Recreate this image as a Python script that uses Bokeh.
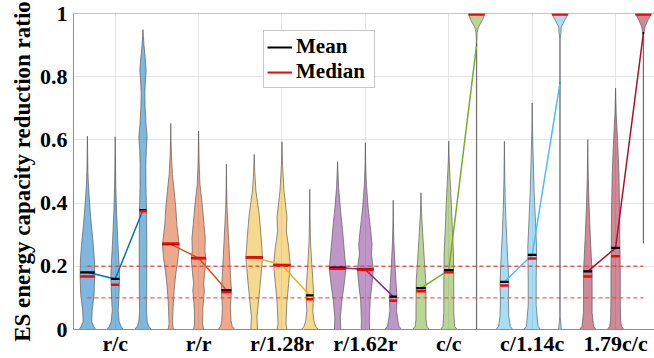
import numpy as np
from bokeh.plotting import figure
from bokeh.models import FixedTicker, Legend, LegendItem, Span, Range1d
from bokeh.embed import file_html
from bokeh.resources import INLINE

# ---------------- data ----------------
group_labels = ["r/c", "r/r", "r/1.28r", "r/1.62r", "c/c", "c/1.14c", "1.79c/c"]
group_ticks = [2, 5, 8, 11, 14, 17, 20]
group_colors = ["#0072BD", "#D95319", "#EDB120", "#7E2F8E", "#77AC30", "#4DBEEE", "#A2142F"]
y_ticks = [0, 0.2, 0.4, 0.6, 0.8, 1.0]
y_tick_labels = ["0", "0.2", "0.4", "0.6", "0.8", "1"]
threshold_levels = [0.1, 0.2]

mean_values = [0.181, 0.160, 0.378, 0.270, 0.226, 0.125, 0.228, 0.204, 0.108,
               0.196, 0.190, 0.104, 0.131, 0.188, 0.901, 0.151, 0.236, 0.780,
               0.184, 0.258, 0.938]
median_values = [0.168, 0.142, 0.374, 0.272, 0.226, 0.119, 0.229, 0.204, 0.096,
                 0.192, 0.189, 0.091, 0.121, 0.181, 0.997, 0.139, 0.225, 0.997,
                 0.168, 0.232, 0.997]

# violin outlines: ratio levels and relative density at those levels (3 violins per group)
rc_levels = [[0, 0.01, 0.025, 0.06, 0.11, 0.17, 0.22, 0.27, 0.33, 0.375, 0.42, 0.46, 0.5, 0.55, 0.612],
             [0, 0.01, 0.025, 0.06, 0.11, 0.165, 0.2, 0.27, 0.375, 0.45, 0.52, 0.61],
             [0, 0.01, 0.025, 0.06, 0.17, 0.27, 0.375, 0.45, 0.52, 0.57, 0.61, 0.65, 0.7, 0.75, 0.79, 0.82, 0.86, 0.9, 0.93, 0.949]]
rc_density = [[1.0, 0.75, 0.52, 0.57, 0.8, 0.88, 0.84, 0.7, 0.48, 0.33, 0.22, 0.12, 0.06, 0.035, 0],
              [1.0, 0.7, 0.48, 0.36, 0.45, 0.52, 0.48, 0.33, 0.16, 0.08, 0.04, 0],
              [1.0, 0.7, 0.5, 0.42, 0.45, 0.46, 0.42, 0.36, 0.34, 0.4, 0.5, 0.36, 0.26, 0.22, 0.3, 0.38, 0.26, 0.12, 0.04, 0]]

rr_levels = [[0, 0.018, 0.07, 0.123, 0.176, 0.228, 0.27, 0.333, 0.385, 0.44, 0.49, 0.55, 0.6, 0.652],
             [0, 0.018, 0.07, 0.123, 0.145, 0.176, 0.223, 0.25, 0.29, 0.333, 0.385, 0.46, 0.53, 0.628],
             [0, 0.01, 0.028, 0.07, 0.123, 0.176, 0.28, 0.385, 0.45, 0.523]]
rr_density = [[0.33, 0.2, 0.28, 0.4, 0.6, 0.88, 1.0, 0.72, 0.6, 0.4, 0.2, 0.08, 0.03, 0],
              [0.6, 0.48, 0.52, 0.69, 0.6, 0.72, 0.88, 0.76, 0.8, 0.64, 0.48, 0.16, 0.06, 0],
              [1.0, 0.7, 0.56, 0.48, 0.6, 0.48, 0.28, 0.08, 0.03, 0]]

r128_levels = [[0, 0.039, 0.102, 0.165, 0.228, 0.302, 0.365, 0.44, 0.5, 0.554],
               [0, 0.018, 0.081, 0.145, 0.204, 0.26, 0.312, 0.354, 0.44, 0.52, 0.594],
               [0, 0.01, 0.028, 0.06, 0.102, 0.145, 0.207, 0.28, 0.36, 0.444]]
r128_density = [[0.4, 0.33, 0.57, 0.8, 1.0, 0.8, 0.6, 0.2, 0.07, 0],
                [0.6, 0.48, 0.57, 0.8, 1.0, 0.8, 0.52, 0.6, 0.24, 0.07, 0],
                [1.0, 0.7, 0.48, 0.36, 0.45, 0.4, 0.24, 0.08, 0.03, 0]]

r162_levels = [[0, 0.039, 0.092, 0.145, 0.194, 0.25, 0.312, 0.385, 0.45, 0.531],
               [0, 0.028, 0.092, 0.145, 0.19, 0.239, 0.27, 0.312, 0.385, 0.46, 0.52, 0.591],
               [0, 0.01, 0.028, 0.06, 0.102, 0.176, 0.28, 0.34, 0.409]]
r162_density = [[0.38, 0.33, 0.52, 0.8, 1.0, 0.8, 0.6, 0.33, 0.12, 0],
                [0.5, 0.48, 0.57, 0.8, 0.96, 0.72, 0.8, 0.64, 0.33, 0.12, 0.04, 0],
                [1.0, 0.7, 0.56, 0.4, 0.45, 0.28, 0.08, 0.03, 0]]

cc_levels = [[0, 0.01, 0.033, 0.075, 0.13, 0.159, 0.222, 0.307, 0.37, 0.433],
             [0, 0.01, 0.054, 0.128, 0.186, 0.243, 0.307, 0.39, 0.475, 0.54, 0.596],
             [0, 0.9, 0.94, 0.958, 0.98, 1.0]]
cc_density = [[1.0, 0.7, 0.6, 0.6, 0.58, 0.56, 0.4, 0.2, 0.06, 0],
              [1.0, 0.7, 0.6, 0.6, 0.58, 0.56, 0.44, 0.32, 0.16, 0.05, 0],
              [0.02, 0.02, 0.06, 0.24, 0.72, 1.0]]

c114_levels = [[0, 0.01, 0.044, 0.097, 0.149, 0.202, 0.286, 0.391, 0.48, 0.596],
               [0, 0.01, 0.075, 0.16, 0.233, 0.265, 0.338, 0.433, 0.549, 0.63, 0.717],
               [0, 0.02, 0.04, 0.92, 0.94, 0.958, 0.98, 1.0]]
c114_density = [[1.0, 0.7, 0.52, 0.48, 0.52, 0.44, 0.28, 0.12, 0.05, 0],
                [1.0, 0.7, 0.48, 0.48, 0.52, 0.52, 0.4, 0.24, 0.12, 0.04, 0],
                [0.16, 0.1, 0.02, 0.02, 0.12, 0.16, 0.6, 1.0]]

c179_levels = [[0, 0.01, 0.054, 0.118, 0.181, 0.286, 0.391, 0.48, 0.601],
               [0, 0.01, 0.033, 0.097, 0.181, 0.265, 0.391, 0.496, 0.6, 0.68, 0.764],
               [0.273, 0.28, 0.93, 0.943, 0.958, 0.98, 1.0]]
c179_density = [[1.0, 0.7, 0.52, 0.52, 0.52, 0.32, 0.16, 0.06, 0],
                [1.0, 0.7, 0.6, 0.56, 0.56, 0.52, 0.48, 0.4, 0.24, 0.08, 0],
                [0.0, 0.02, 0.02, 0.12, 0.2, 0.56, 1.0]]

# ---------------- build ----------------
all_levels = rc_levels + rr_levels + r128_levels + r162_levels + cc_levels + c114_levels + c179_levels
all_density = rc_density + rr_density + r128_density + r162_density + cc_density + c114_density + c179_density
violin_colors = [c for c in group_colors for _ in range(3)]
violin_pos = list(range(1, len(all_levels) + 1))
HALF = 0.30   # half width (x units) of a violin at relative density 1

FONT = "'Liberation Serif'"
AXIS_GREY = "#8c8c8c"

p = figure(width=654, height=358, x_range=Range1d(0.5, 21.4), y_range=Range1d(0, 1),
           output_backend="svg", toolbar_location=None,
           min_border_left=73, min_border_right=0, min_border_top=13, min_border_bottom=29)
p.outline_line_color = None
p.background_fill_color = "white"

xs, ys = [], []
for c, lv, dn in zip(violin_pos, all_levels, all_density):
    lv = np.asarray(lv, dtype=float)
    hw = np.asarray(dn, dtype=float) * HALF
    xs.append(list(c + hw) + list((c - hw)[::-1]))
    ys.append(list(lv) + list(lv[::-1]))
p.patches(xs, ys, fill_color=violin_colors, fill_alpha=0.5,
          line_color="#505050", line_width=0.7, line_alpha=0.9)

for lvl in threshold_levels:
    p.segment(x0=violin_pos[0], x1=violin_pos[-1], y0=lvl, y1=lvl,
              line_color="#e03c3c", line_alpha=0.8, line_width=1.4, line_dash="4 3")

for g, col in enumerate(group_colors):
    p.line(violin_pos[3 * g:3 * g + 3], mean_values[3 * g:3 * g + 3], line_color=col, line_width=1.5)

def widths(vals):
    out = []
    for v, lv, dn in zip(vals, all_levels, all_density):
        out.append(float(np.interp(v, lv, dn)) * HALF)
    return np.array(out)

pos = np.array(violin_pos, dtype=float)
wm = widths(mean_values)
wd = widths(median_values)
p.segment(x0=pos - wm, x1=pos + wm, y0=mean_values, y1=mean_values,
          line_color="black", line_width=2.2)
p.segment(x0=pos - wd, x1=pos + wd, y0=median_values, y1=median_values,
          line_color="#ff0000", line_width=2.5)

leg_mean = p.line([np.nan], [np.nan], line_color="black", line_width=2)
leg_med = p.line([np.nan], [np.nan], line_color="#ff0000", line_width=2)

p.add_layout(Span(location=1, dimension="width", line_color=AXIS_GREY, line_width=1))

p.xaxis.ticker = FixedTicker(ticks=group_ticks)
p.xaxis.major_label_overrides = dict(zip(group_ticks, group_labels))
p.yaxis.ticker = FixedTicker(ticks=y_ticks)
p.yaxis.major_label_overrides = dict(zip(y_ticks, y_tick_labels))
for ax in (p.xaxis[0], p.yaxis[0]):
    ax.axis_line_color = AXIS_GREY
    ax.major_tick_line_color = None
    ax.minor_tick_line_color = None
    ax.major_tick_out = 0
    ax.major_tick_in = 0
    ax.major_label_text_font = FONT
    ax.major_label_text_font_style = "bold"
    ax.major_label_text_font_size = "22px"
    ax.major_label_text_color = "black"
p.xaxis.axis_label = None
p.xaxis.major_label_standoff = 1
p.xaxis.major_label_text_line_height = 1.0

p.yaxis.major_label_standoff = 6
p.yaxis.axis_label = "ES energy capacity reduction ratio"
p.yaxis.axis_label_text_font = FONT
p.yaxis.axis_label_text_font_style = "bold"
p.yaxis.axis_label_text_font_size = "23px"
p.yaxis.axis_label_text_color = "black"
p.yaxis.axis_label_standoff = 2

p.xgrid.ticker = FixedTicker(ticks=group_ticks)
p.ygrid.ticker = FixedTicker(ticks=[0.2, 0.4, 0.6, 0.8])
p.xgrid.grid_line_color = "#e4e4e4"
p.ygrid.grid_line_color = "#e4e4e4"

legend = Legend(items=[LegendItem(label="Mean", renderers=[leg_mean]),
                       LegendItem(label="Median", renderers=[leg_med])],
                location=(190, 241))
legend.label_text_font = FONT
legend.label_text_font_style = "bold"
legend.label_text_font_size = "21px"
legend.label_text_color = "black"
legend.glyph_width = 25
legend.glyph_height = 20
legend.label_height = 20
legend.label_width = 75
legend.label_standoff = 4
legend.padding = 3
legend.spacing = 0
legend.margin = 0
legend.border_line_color = "#909090"
legend.border_line_width = 1
legend.background_fill_alpha = 1
p.add_layout(legend, "center")

open("out.html", "w").write(file_html(p, INLINE))
